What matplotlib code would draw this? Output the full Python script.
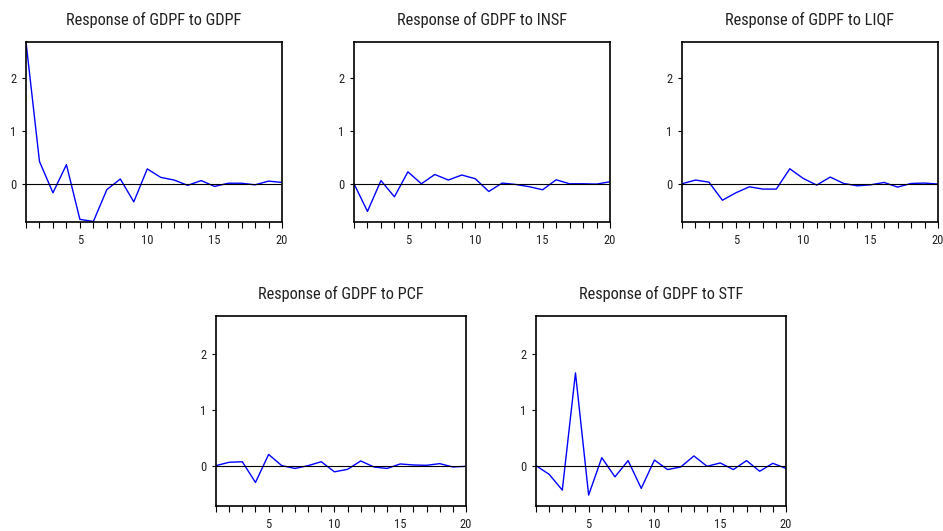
import matplotlib
matplotlib.use("Agg")
import matplotlib.pyplot as plt
from matplotlib.ticker import MultipleLocator

plt.rcParams['font.family'] = ['Roboto Condensed', 'Liberation Sans', 'DejaVu Sans']

periods = list(range(1, 21))

# responses of GDPF to each shock
resp_gdpf = [2.67, 0.42, -0.17, 0.36, -0.67, -0.71, -0.11, 0.09, -0.34, 0.28,
             0.12, 0.07, -0.03, 0.06, -0.05, 0.01, 0.01, -0.02, 0.05, 0.025]
resp_insf = [0.0, -0.52, 0.06, -0.245, 0.225, 0.0, 0.175, 0.07, 0.165, 0.095,
             -0.145, 0.013, -0.013, -0.055, -0.113, 0.075, 0.0, 0.0, -0.006, 0.038]
resp_liqf = [0.0, 0.07, 0.03, -0.31, -0.17, -0.057, -0.1, -0.1, 0.283, 0.1,
             -0.025, 0.126, 0.006, -0.038, -0.02, 0.025, -0.063, 0.006, 0.013, -0.006]
resp_pcf = [0.0, 0.06, 0.07, -0.30, 0.2, 0.0, -0.05, 0.0, 0.07, -0.11,
            -0.066, 0.084, -0.024, -0.05, 0.03, 0.012, 0.006, 0.036, -0.024, -0.012]
resp_stf = [0.0, -0.155, -0.436, 1.654, -0.525, 0.143, -0.2, 0.09, -0.406, 0.1,
            -0.07, -0.024, 0.173, -0.012, 0.048, -0.07, 0.09, -0.1, 0.042, -0.05]

titles = ["Response of GDPF to GDPF", "Response of GDPF to INSF",
          "Response of GDPF to LIQF", "Response of GDPF to PCF",
          "Response of GDPF to STF"]
series = [resp_gdpf, resp_insf, resp_liqf, resp_pcf, resp_stf]

W, H = 943, 531
fig = plt.figure(figsize=(W / 100, H / 100), dpi=100)

# pixel boxes: left, top, right, bottom
boxes = [(26, 42, 282, 222), (354, 42, 610, 222), (682, 42, 938, 222),
         (216, 316, 466, 506), (536, 316, 786, 506)]

for (l, t, r, b), title, y in zip(boxes, titles, series):
    ax = fig.add_axes([l / W, 1 - b / H, (r - l) / W, (b - t) / H])
    ax.plot(periods, y, color='#0000ff', lw=1.0)
    ax.axhline(0, color='black', lw=0.8)
    ax.set_xlim(1, 20)
    ax.set_ylim(-0.72, 2.67)
    ax.set_xticks([5, 10, 15, 20])
    ax.xaxis.set_minor_locator(MultipleLocator(1))
    ax.set_yticks([0, 1, 2])
    ax.tick_params(axis='both', which='both', direction='out', labelsize=9,
                   width=0.8, colors='black', labelcolor='#222222')
    ax.tick_params(axis='x', which='both', length=4, pad=5)
    ax.tick_params(axis='y', length=3, pad=4)
    for s in ax.spines.values():
        s.set_linewidth(1.2)
    ax.set_title(title, fontsize=11.8, pad=12, color='#222222')

fig.savefig("out.png", dpi=100)
